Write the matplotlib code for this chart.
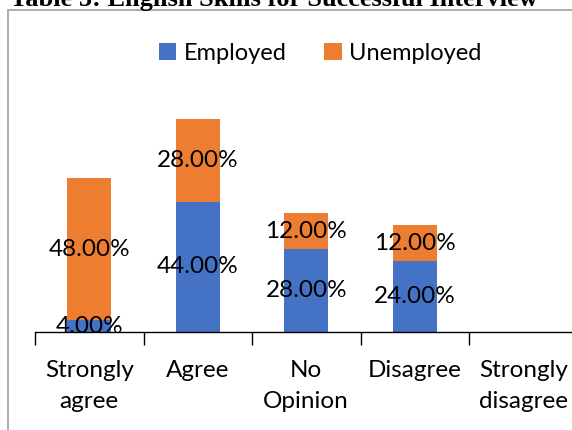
import numpy as np
import matplotlib.pyplot as plt
from matplotlib.patches import Rectangle

categories = ['Strongly\nagree', 'Agree', 'No\nOpinion', 'Disagree', 'Strongly\ndisagree']
employed = [4, 44, 28, 24, 0]
unemployed = [48, 28, 12, 12, 0]

blue = '#4472C4'
orange = '#ED7D31'
W, H = 572, 430

fig = plt.figure(figsize=(W / 100, H / 100), dpi=100)
ax = fig.add_axes([35 / W, (H - 332) / H, 542.5 / W, 237 / H])

x = np.arange(len(categories))
b1 = ax.bar(x, employed, width=0.405, color=blue, label='Employed')
b2 = ax.bar(x, unemployed, width=0.405, bottom=employed, color=orange, label='Unemployed')

# data labels centred in each segment (zeros skipped)
for i in range(len(categories)):
    if employed[i] > 0:
        ax.text(x[i], employed[i] / 2, f'{employed[i]:.2f}%', ha='center', va='center',
                fontsize=17.5, family='Lato', color='black')
    if unemployed[i] > 0:
        ax.text(x[i], employed[i] + unemployed[i] / 2, f'{unemployed[i]:.2f}%', ha='center',
                va='center', fontsize=17.5, family='Lato', color='black')

ax.set_xlim(-0.5, len(categories) - 0.5)
ax.set_ylim(0, 80)
ax.set_yticks([])
for s in ['top', 'right', 'left']:
    ax.spines[s].set_visible(False)
ax.spines['bottom'].set_color('black')
ax.spines['bottom'].set_linewidth(1.0)

ax.set_xticks(x)
ax.set_xticklabels(categories, fontsize=17.5, family='Lato', linespacing=1.6)
ax.tick_params(axis='x', which='major', length=0, pad=20)
ax.set_xticks(np.arange(-0.5, len(categories)), minor=True)
ax.tick_params(axis='x', which='minor', length=9, width=1.0, color='black')

leg = fig.legend(handles=[b1, b2], loc='center', bbox_to_anchor=(320 / W, 1 - 53 / H),
                 ncol=2, frameon=False, prop={'family': 'Lato', 'size': 17},
                 handlelength=0.75, handleheight=0.75, handletextpad=0.3, columnspacing=1.6)

# outer chart frame (cut off at right and bottom)
fig.patches.append(Rectangle((8 / W, -0.1), 1.0, 1 - 10 / H + 0.1, transform=fig.transFigure,
                             fill=False, edgecolor='#A6A6A6', linewidth=1.3))

fig.text(10 / W, 1 - 6 / H, 'Table 5: English Skills for Successful Interview',
         family='Liberation Serif', weight='bold', fontsize=19, va='baseline', ha='left')

fig.savefig('out.png', dpi=100)
